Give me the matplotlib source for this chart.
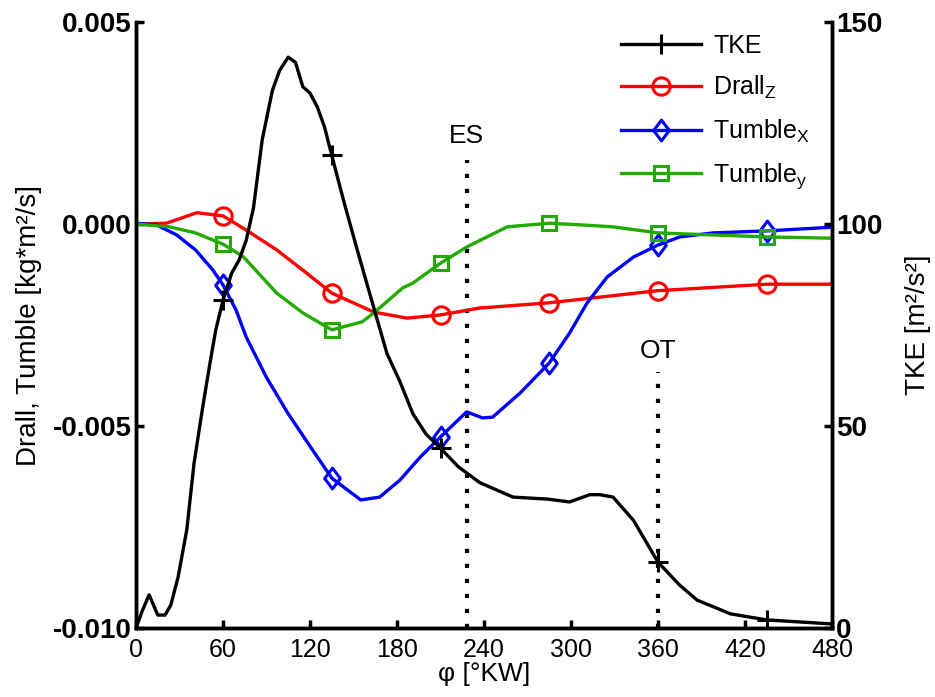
import matplotlib
matplotlib.use('Agg')
import matplotlib.pyplot as plt
from matplotlib import font_manager
from matplotlib.path import Path

# ── DATA ──────────────────────────────────────────────────────────────────────
# crank angle [°KW] and TKE [m²/s²] (right axis)
tke_phi = [0, 4, 9, 15, 20, 24, 29, 35, 40, 46, 51, 55, 60, 66, 71, 76, 81, 87,
           94, 99, 105, 110, 115, 120, 125, 130, 135, 143, 152, 161, 165, 173,
           182, 191, 200, 210, 222, 237, 260, 284, 299, 313, 320, 329, 343,
           360, 375, 387, 410, 435, 480]
tke_val = [0, 4, 8.2, 3.2, 3.2, 5.7, 12.6, 24.3, 40.8, 54.7, 65.6, 73.8, 81.2,
           87.9, 91, 96, 104, 120.8, 133, 138, 141.3, 140, 134, 132.4, 129, 124,
           117, 106, 94.3, 83, 78, 68, 61, 53, 48, 44.5, 40, 36, 32.4, 31.9,
           31.2, 33, 33, 32.4, 26.7, 16.3, 10.6, 6.9, 3.5, 2, 1]

# Drall / Tumble [kg*m²/s] (left axis)
drall_phi = [0, 21, 42, 60, 76, 97, 115, 135, 164, 187, 210, 237, 285, 360, 435, 480]
drall_val = [0, 0.00002, 0.00028, 0.00020, -0.00015, -0.00064, -0.00114,
             -0.00171, -0.00218, -0.00233, -0.00225, -0.00208, -0.00195,
             -0.00165, -0.00149, -0.00149]

tumx_phi = [0, 14, 28, 41, 53, 60, 69, 76, 90, 105, 120, 135, 155, 168, 182,
            196, 210, 228, 239, 246, 265, 285, 299, 311, 325, 343, 360, 375,
            398, 435, 480]
tumx_val = [0.00002, -0.00002, -0.00027, -0.00064, -0.00114, -0.00151,
            -0.00213, -0.00280, -0.00380, -0.00470, -0.00550, -0.00629,
            -0.00683, -0.00676, -0.00634, -0.00577, -0.00527, -0.00465,
            -0.00480, -0.00478, -0.00418, -0.00344, -0.00270, -0.00196,
            -0.00131, -0.00082, -0.00052, -0.00032, -0.00022, -0.00017,
            -0.00008]

tumy_phi = [0, 23, 41, 60, 74, 97, 115, 135, 156, 164, 184, 191, 210, 228, 256,
            285, 306, 329, 360, 398, 435, 480]
tumy_val = [0, -0.00007, -0.00022, -0.00050, -0.00081, -0.00171, -0.00220,
            -0.00262, -0.00242, -0.00220, -0.00158, -0.00146, -0.00097,
            -0.00057, -0.00007, 0.00002, -0.00002, -0.00007, -0.00022,
            -0.00027, -0.00032, -0.00035]

marker_phi = [60, 135, 210, 285, 360, 435]
es_phi = 228
ot_phi = 360

x_ticks = [0, 60, 120, 180, 240, 300, 360, 420, 480]
left_ticks = [-0.010, -0.005, 0.000, 0.005]
right_ticks = [0, 50, 100, 150]
# ── END DATA ──────────────────────────────────────────────────────────────────

RED = '#ff0000'
BLUE = '#0000ff'
GREEN = '#22aa00'

names = {f.name for f in font_manager.fontManager.ttflist}
FONT = 'Liberation Sans' if 'Liberation Sans' in names else 'DejaVu Sans'
plt.rcParams['font.family'] = [FONT, 'DejaVu Sans']
plt.rcParams['mathtext.fontset'] = 'custom'
plt.rcParams['mathtext.rm'] = FONT
plt.rcParams['mathtext.it'] = FONT

# slightly tall diamond like the original marker
DIAMOND = Path([(0, 1), (0.75, 0), (0, -1), (-0.75, 0), (0, 1)],
               [Path.MOVETO, Path.LINETO, Path.LINETO, Path.LINETO, Path.CLOSEPOLY])


def marks(xs):
    return [i for i, x in enumerate(xs) if x in marker_phi]


fig = plt.figure(figsize=(9.35, 6.97), dpi=100)
ax = fig.add_axes([0.1455, 0.099, 0.7443, 0.8694])
ax2 = ax.twinx()

lw = 2.4
mew = 2.2
ax.plot(drall_phi, drall_val, color=RED, lw=lw, marker='o', ms=12.5, mew=mew,
        mfc='none', markevery=marks(drall_phi), label=r'Drall$_\mathregular{Z}$', zorder=3)
ax.plot(tumx_phi, tumx_val, color=BLUE, lw=lw, marker=DIAMOND, ms=15, mew=mew,
        mfc='none', markevery=marks(tumx_phi), label=r'Tumble$_\mathregular{X}$', zorder=3)
ax.plot(tumy_phi, tumy_val, color=GREEN, lw=lw, marker='s', ms=10.5, mew=mew,
        mfc='none', markevery=marks(tumy_phi), label=r'Tumble$_\mathregular{y}$', zorder=3)
ax2.plot(tke_phi, tke_val, color='black', lw=lw, marker='+', ms=14, mew=mew,
         markevery=marks(tke_phi), label='TKE', zorder=3)

# ES / OT dotted lines
dots = (0, (1.0, 2.6))
ax.plot([es_phi, es_phi], [-0.010, 0.00158], color='black', lw=3,
        linestyle=dots, dash_capstyle='butt', zorder=2)
ax.plot([ot_phi, ot_phi], [-0.010, -0.00366], color='black', lw=3,
        linestyle=dots, dash_capstyle='butt', zorder=2)
ax.text(es_phi, 0.00188, 'ES', ha='center', va='bottom', fontsize=19)
ax.text(ot_phi, -0.00345, 'OT', ha='center', va='bottom', fontsize=19)

ax.set_xlim(0, 480)
ax.set_ylim(-0.010, 0.005)
ax2.set_ylim(0, 150)
ax.set_xticks(x_ticks)
ax.set_xticklabels([str(t) for t in x_ticks], fontsize=18)
ax.set_yticks(left_ticks)
ax.set_yticklabels([f'{t:.3f}' for t in left_ticks], fontsize=20, fontweight='bold')
ax2.set_yticks(right_ticks)
ax2.set_yticklabels([str(t) for t in right_ticks], fontsize=20, fontweight='bold')

for a in (ax, ax2):
    a.spines['top'].set_visible(False)
    for s in ('left', 'right', 'bottom'):
        a.spines[s].set_linewidth(2.5)
    a.tick_params(direction='in', length=6, width=2.5, pad=3)
ax.tick_params(axis='x', pad=7)

ax.set_xlabel('φ [°KW]', fontsize=19, labelpad=0)
ax.set_ylabel('Drall, Tumble [kg*m²/s]', fontsize=20, labelpad=8)
ax2.set_ylabel('TKE [m²/s²]', fontsize=20, labelpad=16)

h1, l1 = ax.get_legend_handles_labels()
h2, l2 = ax2.get_legend_handles_labels()
leg = ax2.legend(h2 + h1, l2 + l1, loc='upper right', frameon=False, fontsize=18,
                 handlelength=3.2, handletextpad=0.5, labelspacing=0.65,
                 borderaxespad=0.2, bbox_to_anchor=(0.99, 1.005))

fig.savefig('out.png', dpi=100, facecolor='white')
